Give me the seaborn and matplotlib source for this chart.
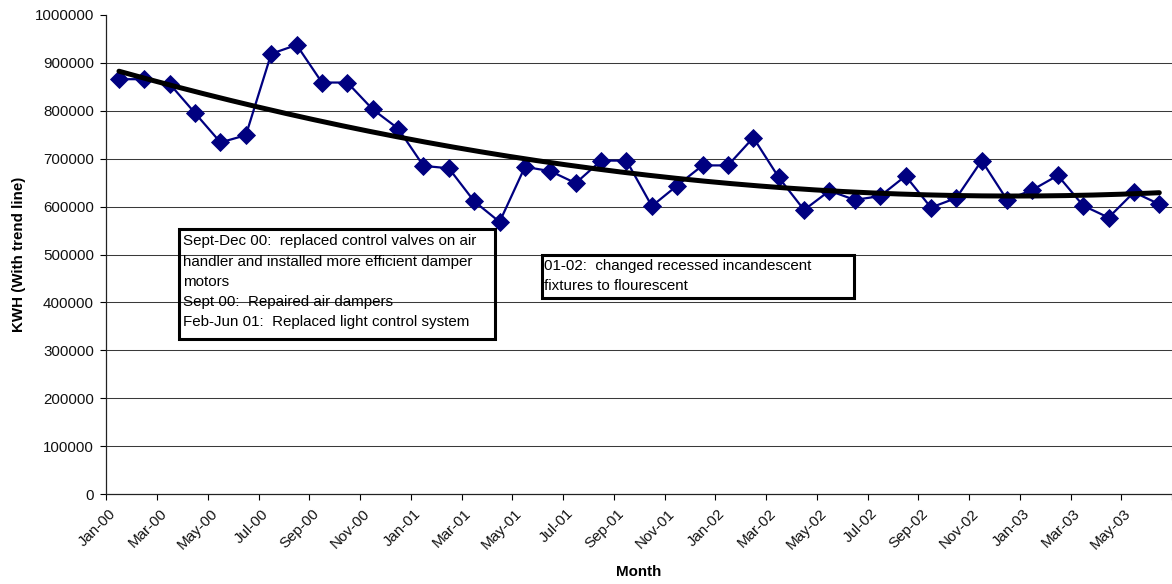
import numpy as np
import pandas as pd
import matplotlib
matplotlib.use("Agg")
import matplotlib.pyplot as plt
from matplotlib.patches import Rectangle
from matplotlib.transforms import ScaledTranslation
import seaborn as sns

# Monthly electricity use, Jan 2000 - Jun 2003
months = list(pd.date_range("2000-01-01", periods=42, freq="MS").strftime("%b-%y"))
kwh = [866000, 866000, 856000, 795000, 734000, 749000, 919000, 937500, 859000, 859000,
       803000, 763000, 685000, 680000, 611000, 568000, 683000, 674000, 649000, 696000,
       696000, 601000, 644000, 686000, 686000, 744000, 661000, 593000, 633000, 614000,
       622000, 664000, 598000, 618000, 696000, 614000, 635000, 665000, 602000, 577000,
       630000, 605000]
y_ticks = list(range(0, 1000001, 100000))

note_retrofit = ("Sept-Dec 00:  replaced control valves on air\n"
                 "handler and installed more efficient damper\n"
                 "motors\n"
                 "Sept 00:  Repaired air dampers\n"
                 "Feb-Jun 01:  Replaced light control system")
note_lighting = ("01-02:  changed recessed incandescent\n"
                 "fixtures to flourescent")

sns.set_theme(style="white")
plt.rcParams["font.family"] = ["Liberation Sans", "DejaVu Sans"]
FS = 10.9

W, H = 1172, 584
fig = plt.figure(figsize=(W / 100, H / 100), dpi=100)
ax = fig.add_axes([106.3 / W, 90 / H, (W - 106.3) / W, (494 - 15) / H])

df = pd.DataFrame({"idx": np.arange(len(months)), "month": months, "kwh": kwh})

sns.lineplot(data=df, x="idx", y="kwh", ax=ax, color="#000080", linewidth=1.6,
             marker="D", markersize=9.0, markeredgewidth=0.6,
             markeredgecolor="#000080", markerfacecolor="#000080", zorder=3)

# second-order polynomial trend line
coef = np.polyfit(df["idx"], df["kwh"], 2)
xs = np.linspace(df["idx"].min(), df["idx"].max(), 300)
ax.plot(xs, np.polyval(coef, xs), color="black", linewidth=3.6,
        solid_capstyle="round", zorder=4)

ax.set_xlim(-0.5, len(months) - 0.5)
ax.set_ylim(0, 1000000)

# y axis
ax.set_yticks(y_ticks)
ax.set_yticklabels([str(v) for v in y_ticks])
ax.yaxis.grid(True, color="#3a3a3a", linewidth=0.75)
ax.xaxis.grid(False)
ax.get_ygridlines()[-1].set_visible(False)
ax.get_ygridlines()[0].set_visible(False)
ax.tick_params(axis="y", which="major", direction="out", length=4.3, width=0.8,
               color="black", left=True, pad=4.5, labelsize=FS, labelcolor="#111111")

# x axis: tick marks between categories, labels under every other month
ax.set_xticks(np.arange(-0.5, len(months), 2))
ax.set_xticklabels([])
ax.set_xticks(np.arange(0, len(months), 2), minor=True)
ax.set_xticklabels(months[::2], minor=True, rotation=45, ha="right",
                   rotation_mode="anchor", fontsize=FS, color="#111111")
ax.tick_params(axis="x", which="major", direction="out", length=4, width=0.8,
               color="black", bottom=True)
ax.tick_params(axis="x", which="minor", length=0, pad=9)
shift = ScaledTranslation(-10 / 100, 0, fig.dpi_scale_trans)
for lab in ax.get_xticklabels(which="minor"):
    lab.set_transform(lab.get_transform() + shift)

for side in ("top", "right"):
    ax.spines[side].set_visible(False)
for side in ("left", "bottom"):
    ax.spines[side].set_color("#222222")
    ax.spines[side].set_linewidth(0.9)

ax.set_ylabel("KWH (With trend line)", fontsize=FS, fontweight="bold", color="black")
ax.yaxis.set_label_coords(-0.075, 0.5)
ax.set_xlabel("Month", fontsize=FS, fontweight="bold", color="black")
ax.xaxis.set_label_coords(0.5, -0.148)


def px(x, y):
    return x / W, 1 - y / H


def note_box(x0, y0, x1, y1, text, tx, ty):
    fx, fy = px(x0, y1)
    fig.patches.append(Rectangle((fx, fy), (x1 - x0) / W, (y1 - y0) / H,
                                 transform=fig.transFigure, fill=False,
                                 edgecolor="black", linewidth=2.2, zorder=5))
    fig.text(*px(tx, ty), text, fontsize=FS, color="black", ha="left", va="top",
             linespacing=1.55, zorder=6)


note_box(178.8, 228.8, 495.2, 339.2, note_retrofit, 183.3, 234.5)
note_box(542.2, 254.8, 853.5, 297.8, note_lighting, 543.5, 259.0)

fig.savefig("out.png", dpi=100, facecolor="white")
